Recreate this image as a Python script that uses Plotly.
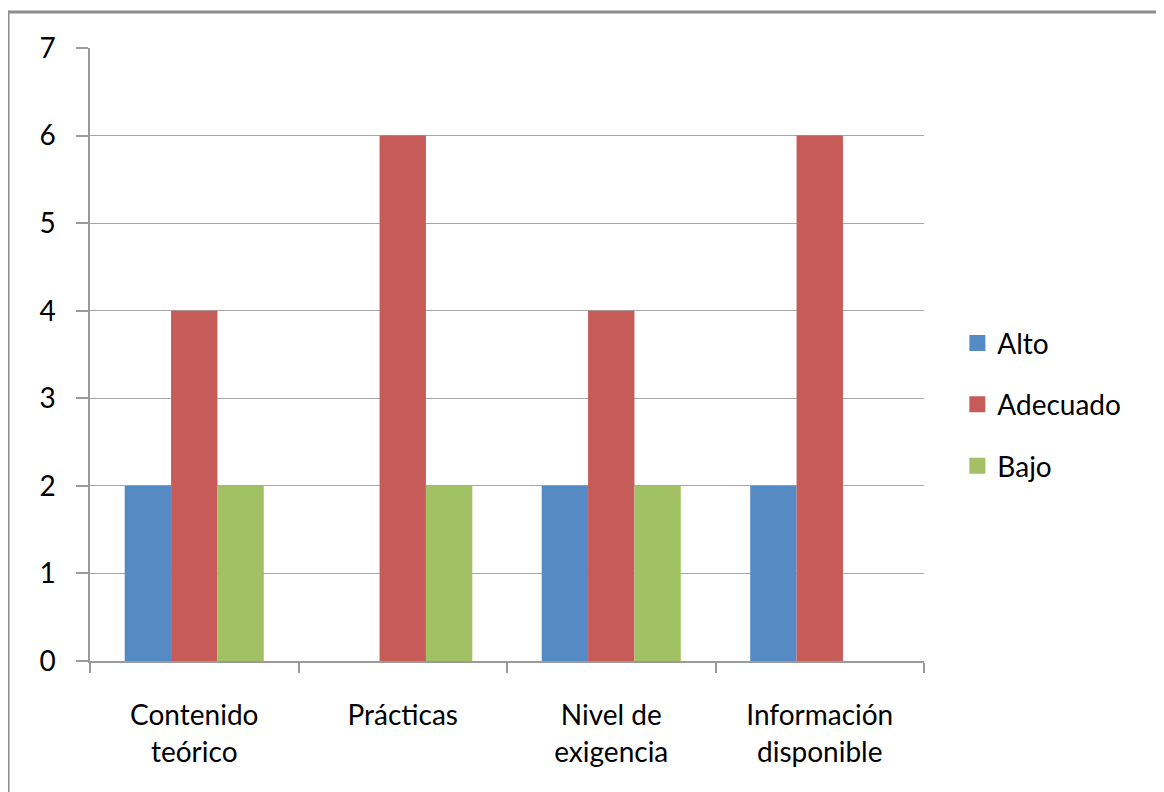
import plotly.graph_objects as go

categories = ["Contenido<br>teórico", "Prácticas", "Nivel de<br>exigencia", "Información<br>disponible"]
series_names = ["Alto", "Adecuado", "Bajo"]
alto = [2, 0, 2, 2]
adecuado = [4, 6, 4, 6]
bajo = [2, 2, 2, 0]
y_ticks = [0, 1, 2, 3, 4, 5, 6, 7]

colors = ["#568AC5", "#C75B58", "#A2C165"]
values = [alto, adecuado, bajo]

fig = go.Figure()
for name, vals, col in zip(series_names, values, colors):
    fig.add_trace(go.Bar(x=categories, y=vals, name=name, marker_color=col,
                         marker_line_width=0, showlegend=False))
# legend entries with larger square symbols
for name, col in zip(series_names, colors):
    fig.add_trace(go.Scatter(x=[None], y=[None], mode="markers", name=name,
                             marker=dict(symbol="square", size=20, color=col),
                             legendgroup=name, showlegend=True))

font_family = "Lato, Open Sans, sans-serif"
fig.update_layout(
    width=1164, height=792,
    margin=dict(l=82, r=248, t=40, b=139),
    paper_bgcolor="white", plot_bgcolor="white",
    barmode="group", bargap=0.333, bargroupgap=0,
    font=dict(family=font_family, size=28, color="#000000"),
    showlegend=True,
    legend=dict(x=1.04, y=0.418, xanchor="left", yanchor="middle",
                tracegroupgap=22, font=dict(size=28)),
)
fig.update_xaxes(
    showline=True, linecolor="#9A9A9A", linewidth=1.5,
    ticks="outside", tickson="boundaries", ticklen=10, tickcolor="#9A9A9A",
    tickwidth=1.5, showgrid=False, ticklabelstandoff=29,
)
fig.update_yaxes(
    range=[0, 7], tickvals=y_ticks,
    showline=True, linecolor="#9A9A9A", linewidth=1.5,
    ticks="outside", ticklen=12, tickcolor="#9A9A9A", tickwidth=1.5,
    showgrid=True, gridcolor="#A6A6A6", gridwidth=1,
    zeroline=False, ticklabelstandoff=15,
)
# outer chart frame (left and top edges visible)
fx0 = (0 - 82) / 834
fx1 = (1200 - 82) / 834
fy0 = -(830 - 653) / 613
fy1 = 1 + (40 - 4) / 613
fig.add_shape(type="line", xref="paper", yref="paper",
              x0=fx0, x1=fx0, y0=fy0, y1=fy1,
              line=dict(color="#8C8C8C", width=3), layer="below")
fig.add_shape(type="line", xref="paper", yref="paper",
              x0=fx0, x1=fx1, y0=fy1, y1=fy1,
              line=dict(color="#8C8C8C", width=3), layer="below")
fig.write_html("out.html")
